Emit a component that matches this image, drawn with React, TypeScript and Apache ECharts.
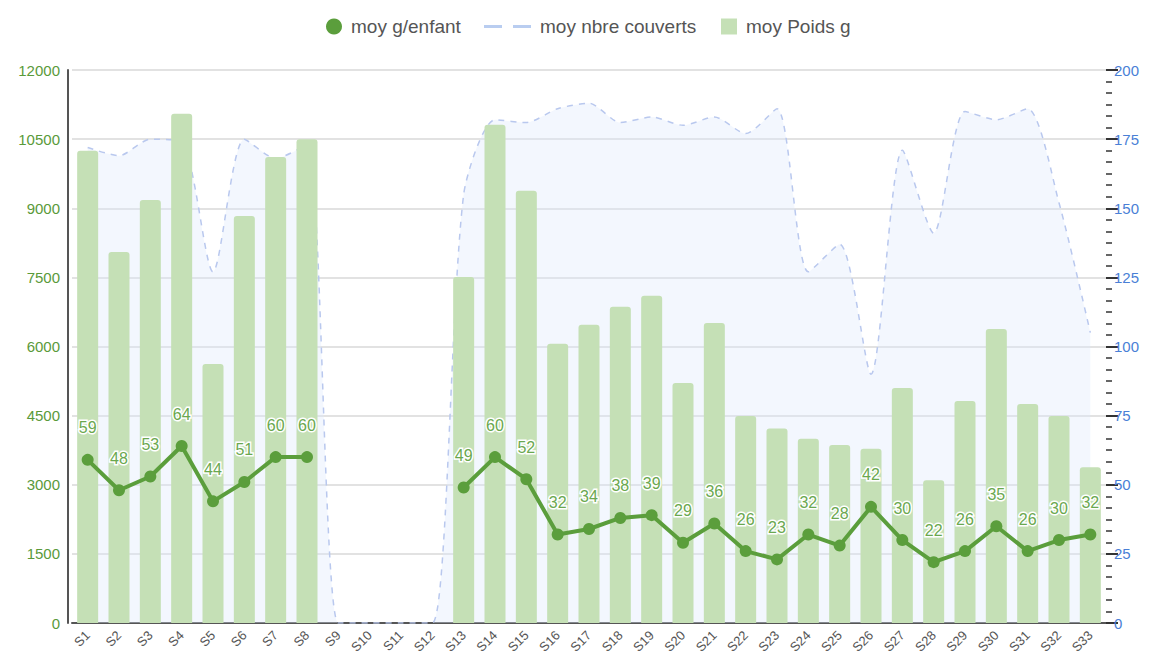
import React, { useEffect, useRef } from "react";
import * as echarts from "echarts";

const categories = ["S1","S2","S3","S4","S5","S6","S7","S8","S9","S10","S11","S12","S13","S14","S15","S16","S17","S18","S19","S20","S21","S22","S23","S24","S25","S26","S27","S28","S29","S30","S31","S32","S33"];
const poids: (number | null)[] = [10250, 8050, 9180, 11050, 5620, 8830, 10110, 10500, null, null, null, null, 7510, 10810, 9380, 6060, 6470, 6860, 7100, 5210, 6510, 4490, 4220, 4000, 3860, 3780, 5100, 3100, 4820, 6380, 4750, 4490, 3380];
const couverts: number[] = [172, 169, 175, 174, 127, 175, 168, 173, 0, 0, 0, 0, 155, 182, 181, 186, 188, 181, 183, 180, 183, 177, 186, 127, 137, 90, 171, 141, 185, 182, 186, 152, 105];
const gEnfant: (number | null)[] = [59, 48, 53, 64, 44, 51, 60, 60, null, null, null, null, 49, 60, 52, 32, 34, 38, 39, 29, 36, 26, 23, 32, 28, 42, 30, 22, 26, 35, 26, 30, 32];
const leftTicks = { min: 0, max: 12000, interval: 1500 };
const rightTicks = { min: 0, max: 200, interval: 25 };

export default function App() {
  const ref = useRef<HTMLDivElement>(null);
  useEffect(() => {
    if (!ref.current) return;
    const chart = echarts.init(ref.current, null, { renderer: "svg" });
    const font = "'Liberation Sans', Arial, sans-serif";
    const legendText = { color: "#555", fontSize: 19, fontFamily: font, padding: [0, 0, 0, 4] };
    chart.setOption({
      animation: false,
      backgroundColor: "#ffffff",
      textStyle: { fontFamily: font },
      legend: [
        {
          top: 12,
          left: 321,
          itemWidth: 16,
          itemHeight: 16,
          textStyle: legendText,
          data: [{ name: "moy g/enfant", icon: "circle", itemStyle: { color: "#5b9e3c" } }],
        },
        {
          top: 12,
          left: 479,
          itemWidth: 47,
          itemHeight: 16,
          textStyle: legendText,
          data: [
            {
              name: "moy nbre couverts",
              icon: "path://M0,0 L0.01,0 Z M0,6.5 H18 V9.5 H0 Z M29,6.5 H47 V9.5 H29 Z M47,16 L46.99,16 Z",
              itemStyle: { color: "#b9cdf0" },
            },
          ],
        },
        {
          top: 12,
          left: 716,
          itemWidth: 16,
          itemHeight: 16,
          textStyle: legendText,
          data: [{ name: "moy Poids g", icon: "rect", itemStyle: { color: "#c5e0b6" } }],
        },
      ],
      grid: { left: 72, right: 54, top: 70, bottom: 41, containLabel: false },
      xAxis: {
        type: "category",
        data: categories,
        axisLine: { lineStyle: { color: "#555", width: 2 } },
        axisTick: { show: false },
        axisLabel: { rotate: 45, color: "#555", fontSize: 13, margin: 10, fontFamily: font },
      },
      yAxis: [
        {
          type: "value",
          min: leftTicks.min,
          max: leftTicks.max,
          interval: leftTicks.interval,
          offset: 4,
          axisLine: { show: true, lineStyle: { color: "#555", width: 2 } },
          axisTick: { show: false },
          axisLabel: { color: "#5a9a3a", fontSize: 15, margin: 8, fontFamily: font, formatter: (v: number) => String(v) },
          splitLine: { lineStyle: { color: "#d8d8d8", width: 1.5 } },
        },
        {
          type: "value",
          position: "right",
          min: rightTicks.min,
          max: rightTicks.max,
          interval: rightTicks.interval,
          axisLine: { show: false },
          axisTick: { show: true, length: 12, lineStyle: { color: "#333", width: 2 } },
          minorTick: { show: true, splitNumber: 6, length: 6, lineStyle: { color: "#333", width: 1.5 } },
          axisLabel: { color: "#4a7fd6", fontSize: 15, margin: 8, fontFamily: font, formatter: (v: number) => String(v) },
          splitLine: { show: false },
        },
      ],
      series: [
        {
          name: "moy nbre couverts",
          type: "line",
          yAxisIndex: 1,
          data: couverts,
          smooth: 0.25,
          symbol: "none",
          lineStyle: { color: "#b9c8ee", width: 1.5, type: [6, 6] },
          itemStyle: { color: "#b9cdf0" },
          areaStyle: { color: "rgba(222,232,252,0.5)" },
          z: 1,
        },
        {
          name: "moy Poids g",
          type: "bar",
          yAxisIndex: 0,
          data: poids,
          barWidth: 21,
          itemStyle: { color: "#c5e0b6", borderRadius: [3, 3, 0, 0] },
          z: 2,
        },
        {
          name: "moy g/enfant",
          type: "line",
          yAxisIndex: 1,
          data: gEnfant,
          connectNulls: false,
          symbol: "circle",
          symbolSize: 12,
          lineStyle: { color: "#5b9e3c", width: 4 },
          itemStyle: { color: "#5b9e3c" },
          label: {
            show: true,
            position: "top",
            distance: 18,
            color: "#6aa84f",
            fontSize: 16,
            fontFamily: font,
            textBorderColor: "#ffffff",
            textBorderWidth: 3,
          },
          z: 3,
        },
      ],
    });
    return () => chart.dispose();
  }, []);
  return <div ref={ref} style={{ position: "fixed", left: 0, top: 0, width: 1160, height: 664 }} />;
}
